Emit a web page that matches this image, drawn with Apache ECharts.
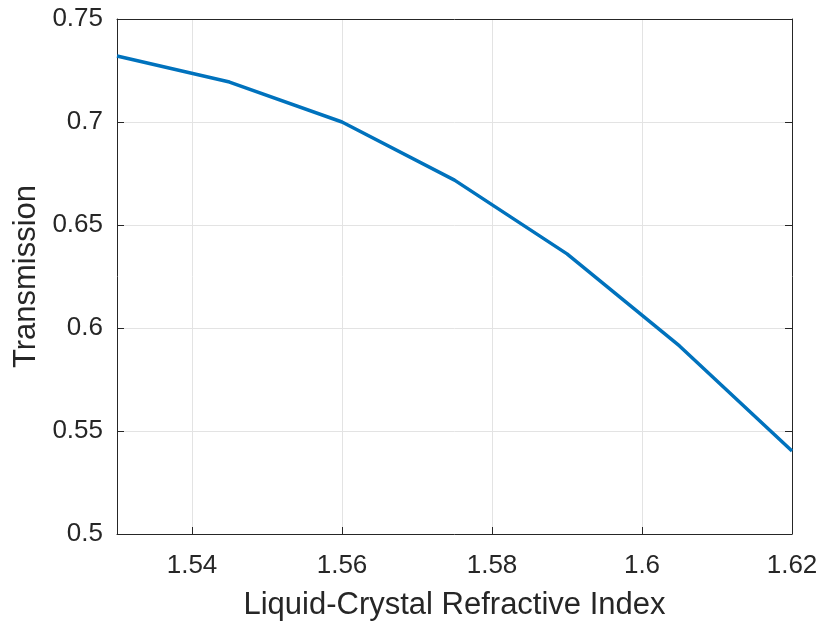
<!DOCTYPE html>
<html>
<head>
<meta charset="utf-8">
<script src="https://cdn.jsdelivr.net/npm/echarts@6/dist/echarts.min.js"></script>
<style>
  html, body { margin: 0; padding: 0; background: #fff; }
  #main { width: 822px; height: 624px; }
</style>
</head>
<body>
<div id="main"></div>
<script>
// refractive index vs transmission
var refIndex = [1.53, 1.545, 1.56, 1.575, 1.59, 1.605, 1.62];
var transmission = [0.732, 0.7194, 0.700, 0.6718, 0.636, 0.5913, 0.5403];
var xTicks = [1.54, 1.56, 1.58, 1.6, 1.62];

var font = '"Liberation Sans", Arial, sans-serif';
var axisCol = '#262626';

var points = [];
for (var i = 0; i < refIndex.length; i++) {
    points.push([refIndex[i], transmission[i]]);
}

var chart = echarts.init(document.getElementById('main'));

chart.setOption({
    animation: false,
    grid: {
        left: 117,
        right: 30,
        top: 19,
        bottom: 90,
        containLabel: false,
        outerBoundsMode: 'none'
    },
    xAxis: [{
        type: 'value',
        min: 1.53,
        max: 1.62,
        name: 'Liquid-Crystal Refractive Index',
        nameLocation: 'middle',
        nameGap: 56,
        nameTextStyle: { fontFamily: font, fontSize: 31, color: axisCol },
        axisLine: { onZero: false, lineStyle: { color: axisCol, width: 1 } },
        axisTick: { inside: true, length: 7, customValues: xTicks, lineStyle: { color: axisCol } },
        axisLabel: {
            fontFamily: font, fontSize: 26, color: axisCol, margin: 19,
            customValues: xTicks,
            formatter: function (v) { return String(+v.toFixed(2)); }
        },
        splitLine: { show: true, lineStyle: { color: '#e3e3e3', width: 1 } }
    }, {
        type: 'value',
        position: 'top',
        min: 1.53,
        max: 1.62,
        axisLine: { show: true, lineStyle: { color: axisCol, width: 1 } },
        axisTick: { show: false },
        axisLabel: { show: false },
        splitLine: { show: false }
    }],
    yAxis: [{
        type: 'value',
        min: 0.5,
        max: 0.75,
        interval: 0.05,
        name: 'Transmission',
        nameLocation: 'middle',
        nameGap: 75,
        nameTextStyle: { fontFamily: font, fontSize: 31, color: axisCol },
        axisLine: { show: true, lineStyle: { color: axisCol, width: 1 } },
        axisTick: { inside: true, length: 7, lineStyle: { color: axisCol } },
        axisLabel: {
            fontFamily: font, fontSize: 26, color: axisCol, margin: 14,
            formatter: function (v) { return String(+v.toFixed(2)); }
        },
        splitLine: { show: true, lineStyle: { color: '#e3e3e3', width: 1 } }
    }, {
        type: 'value',
        position: 'right',
        min: 0.5,
        max: 0.75,
        interval: 0.05,
        axisLine: { show: true, lineStyle: { color: axisCol, width: 1 } },
        axisTick: { show: true, inside: true, length: 7, lineStyle: { color: axisCol } },
        axisLabel: { show: false },
        splitLine: { show: false }
    }],
    series: [{
        type: 'line',
        data: points,
        showSymbol: false,
        lineStyle: { color: '#0072BD', width: 3.5 },
        itemStyle: { color: '#0072BD' }
    }]
});
</script>
</body>
</html>
